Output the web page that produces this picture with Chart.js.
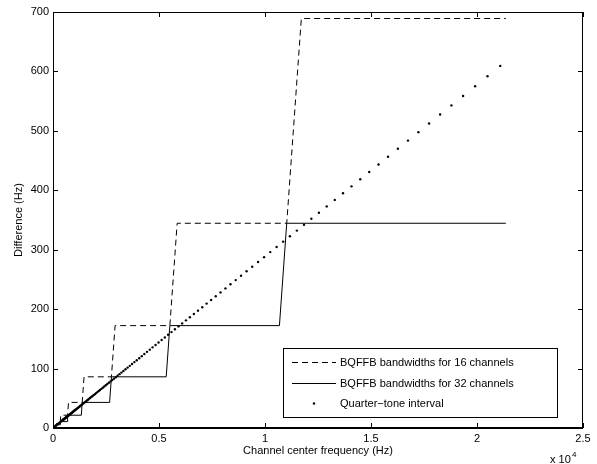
<!DOCTYPE html>
<html>
<head>
<meta charset="utf-8">
<script src="https://cdn.jsdelivr.net/npm/chart.js@4.4.1/dist/chart.umd.min.js"></script>
<style>
  body { margin: 0; background: #fff; }
  canvas { display: block; }
</style>
</head>
<body>
<canvas id="chart" width="597" height="464"></canvas>
<script>
// BQFFB bandwidths, 16 channels: first/last channel centre of each band (Hz) and its bandwidth (Hz)
const freq16 = [46, 86, 91.5, 172, 183, 344.5, 366, 689, 732, 1378, 1464, 2756, 2928, 5512, 5857, 11025, 11714, 21361];
const bw16 = [2.69, 2.69, 5.38, 5.38, 10.77, 10.77, 21.53, 21.53, 43.07, 43.07, 86.13, 86.13, 172.27, 172.27, 344.53, 344.53, 689.06, 689.06];

// BQFFB bandwidths, 32 channels
const freq32 = [86, 167, 172, 334, 344.5, 668, 689, 1335, 1378, 2670, 2756, 5340, 5512, 10681, 11025, 21361];
const bw32 = [2.69, 2.69, 5.38, 5.38, 10.77, 10.77, 21.53, 21.53, 43.07, 43.07, 86.13, 86.13, 172.27, 172.27, 344.53, 344.53];

// quarter-tone interval: frequency (Hz) and its interval width (Hz)
const qtFreq = [
  27.5, 55, 110, 156, 220, 262, 311, 370, 415,
  440, 452.9, 466.2, 479.8, 493.9, 508.4, 523.3, 538.6, 554.4, 570.6, 587.3, 604.6, 622.3, 640.5, 659.3, 678.6, 698.5, 718.9, 740.0, 761.7, 784.0, 807.0, 830.6, 855.0,
  880, 905.8, 932.3, 959.6, 987.8, 1016.7, 1046.5, 1077.2, 1108.7, 1141.2, 1174.7, 1209.1, 1244.5, 1281.0, 1318.5, 1357.1, 1396.9, 1437.8, 1480.0, 1523.3, 1568.0, 1613.9, 1661.2, 1709.9,
  1760, 1812, 1865, 1919, 1976, 2033, 2093, 2154, 2217, 2282, 2349, 2418, 2489, 2562, 2637, 2714, 2794, 2876, 2960, 3047, 3136, 3228, 3322, 3420,
  3520, 3623, 3729, 3839, 3951, 4067, 4186, 4309, 4435, 4565, 4699, 4836, 4978, 5124, 5274, 5429, 5588, 5751, 5920, 6093, 6272, 6456, 6645, 6840,
  7040, 7246, 7459, 7677, 7902, 8134, 8372, 8618, 8870, 9130, 9398, 9673, 9956, 10248, 10548, 10858, 11175, 11503, 11840, 12187, 12544, 12911, 13290, 13680,
  14080, 14493, 14917, 15354, 15804, 16268, 16744, 17235, 17740, 18260, 18795, 19345, 19912, 20496, 21096
];
const qtDiff = [
  0.79, 1.59, 3.18, 4.49, 6.35, 7.56, 8.98, 10.68, 11.99,
  12.71, 13.08, 13.46, 13.86, 14.26, 14.68, 15.11, 15.55, 16.01, 16.48, 16.96, 17.46, 17.97, 18.50, 19.04, 19.60, 20.17, 20.76, 21.37, 22.00, 22.64, 23.30, 23.99, 24.69,
  25.41, 26.16, 26.92, 27.72, 28.52, 29.36, 30.22, 31.10, 32.02, 32.96, 33.92, 34.92, 35.94, 37.00, 38.08, 39.20, 40.34, 41.52, 42.74, 44.00, 45.28, 46.60, 47.98, 49.38,
  50.8, 52.3, 53.8, 55.4, 57.0, 58.7, 60.4, 62.2, 64.0, 65.9, 67.8, 69.8, 71.9, 74.0, 76.2, 78.4, 80.7, 83.0, 85.5, 88.0, 90.6, 93.2, 96.0, 98.8,
  101.6, 104.6, 107.7, 110.9, 114.1, 117.4, 120.9, 124.4, 128.1, 131.8, 135.7, 139.7, 143.8, 148.0, 152.3, 156.8, 161.4, 166.1, 171.0, 176.0, 181.1, 186.4, 191.9, 197.5,
  203.3, 209.3, 215.4, 221.7, 228.2, 234.9, 241.8, 248.9, 256.2, 263.7, 271.4, 279.4, 287.5, 296.0, 304.6, 313.6, 322.7, 332.2, 341.9, 352.0, 362.3, 372.9, 383.8, 395.1,
  406.6, 418.6, 430.8, 443.4, 456.4, 469.8, 483.6, 497.8, 512.3, 527.4, 542.8, 558.7, 575.1, 591.9, 609.3
];

const seriesLabels = [
  'BQFFB bandwidths for 16 channels',
  'BQFFB bandwidths for 32 channels',
  'Quarter\u2212tone interval',
];

const FONT = '"Liberation Sans", Arial, Helvetica, sans-serif';
Chart.defaults.font.family = FONT;
Chart.defaults.font.size = 11;
Chart.defaults.color = '#000';

const toPoints = (xs, ys) => xs.map((x, i) => ({ x, y: ys[i] }));

// matlab style box, inward ticks, legend and the x10^4 multiplier
const matlabAxes = {
  id: 'matlabAxes',
  afterDraw(chart) {
    const { ctx, chartArea: a, scales } = chart;
    ctx.save();
    ctx.strokeStyle = '#000';
    ctx.lineWidth = 1;
    ctx.setLineDash([]);
    ctx.beginPath();
    ctx.rect(a.left + 0.5, a.top + 0.5, a.right - a.left - 1, a.bottom - a.top - 1);
    ctx.stroke();
    // bottom axis reads a bit heavier in the original
    ctx.lineWidth = 2;
    ctx.beginPath();
    ctx.moveTo(a.left, a.bottom); ctx.lineTo(a.right, a.bottom);
    ctx.stroke();
    ctx.lineWidth = 1;

    const tl = 5;
    ctx.beginPath();
    scales.x.ticks.forEach(t => {
      const px = Math.round(scales.x.getPixelForValue(t.value)) + 0.5;
      ctx.moveTo(px, a.bottom); ctx.lineTo(px, a.bottom - tl);
      ctx.moveTo(px, a.top); ctx.lineTo(px, a.top + tl);
    });
    scales.y.ticks.forEach(t => {
      const py = Math.round(scales.y.getPixelForValue(t.value)) + 0.5;
      ctx.moveTo(a.left, py); ctx.lineTo(a.left + tl, py);
      ctx.moveTo(a.right, py); ctx.lineTo(a.right - tl, py);
    });
    ctx.stroke();

    // legend
    const bw = 274, bh = 69;
    const bx = a.right - 26 - bw, by = a.bottom - 11 - bh;
    ctx.fillStyle = '#fff';
    ctx.fillRect(bx, by, bw, bh);
    ctx.strokeRect(Math.round(bx) + 0.5, Math.round(by) + 0.5, bw, bh);
    ctx.font = '11px ' + FONT;
    ctx.textBaseline = 'middle';
    ctx.textAlign = 'left';
    chart.data.datasets.forEach((ds, i) => {
      const y = Math.round(by + 14 + i * 20.5) + 0.5;
      const x0 = bx + 9, x1 = bx + 53;
      ctx.strokeStyle = '#000';
      ctx.fillStyle = '#000';
      if (ds.showLine) {
        ctx.lineWidth = ds.borderWidth;
        ctx.setLineDash(ds.borderDash || []);
        ctx.beginPath();
        ctx.moveTo(x0, y); ctx.lineTo(x1, y);
        ctx.stroke();
        ctx.setLineDash([]);
      } else {
        ctx.beginPath();
        ctx.arc((x0 + x1) / 2, y, ds.pointRadius, 0, Math.PI * 2);
        ctx.fill();
      }
      ctx.fillText(ds.label, bx + 57, y);
    });

    // exponent
    ctx.fillStyle = '#000';
    ctx.textBaseline = 'alphabetic';
    ctx.font = '11px ' + FONT;
    ctx.fillText('x 10', a.right - 33, 463);
    ctx.font = '8px ' + FONT;
    ctx.fillText('4', a.right - 11, 457);
    ctx.restore();
  }
};

new Chart(document.getElementById('chart'), {
  type: 'scatter',
  data: {
    datasets: [
      {
        label: seriesLabels[0],
        data: toPoints(freq16, bw16),
        showLine: true,
        borderColor: '#000',
        borderWidth: 1,
        borderDash: [6, 4],
        pointRadius: 0,
        fill: false,
      },
      {
        label: seriesLabels[1],
        data: toPoints(freq32, bw32),
        showLine: true,
        borderColor: '#000',
        borderWidth: 1,
        pointRadius: 0,
        fill: false,
      },
      {
        label: seriesLabels[2],
        data: toPoints(qtFreq, qtDiff),
        showLine: false,
        pointRadius: 1.2,
        pointBorderWidth: 0,
        pointBackgroundColor: '#000',
        borderColor: '#000',
      },
    ],
  },
  options: {
    responsive: false,
    animation: false,
    devicePixelRatio: 1,
    layout: { padding: { left: 0, top: 12, right: 14, bottom: 0 } },
    plugins: {
      legend: { display: false },
      tooltip: { enabled: false },
    },
    scales: {
      x: {
        type: 'linear',
        min: 0,
        max: 25000,
        grid: { display: false, drawTicks: false },
        border: { display: false },
        ticks: {
          stepSize: 5000,
          padding: 4,
          maxRotation: 0,
          callback: (v) => String(v / 10000),
        },
        title: {
          display: true,
          text: 'Channel center frequency (Hz)',
          padding: { top: 0, bottom: 6 },
        },
        afterFit: (s) => { s.height = 36; },
      },
      y: {
        min: 0,
        max: 700,
        grid: { display: false, drawTicks: false },
        border: { display: false },
        ticks: { stepSize: 100, padding: 4 },
        title: {
          display: true,
          text: 'Difference (Hz)',
          padding: { top: 12, bottom: 0 },
        },
        afterFit: (s) => { s.width = 53; },
      },
    },
  },
  plugins: [matlabAxes],
});
</script>
</body>
</html>
